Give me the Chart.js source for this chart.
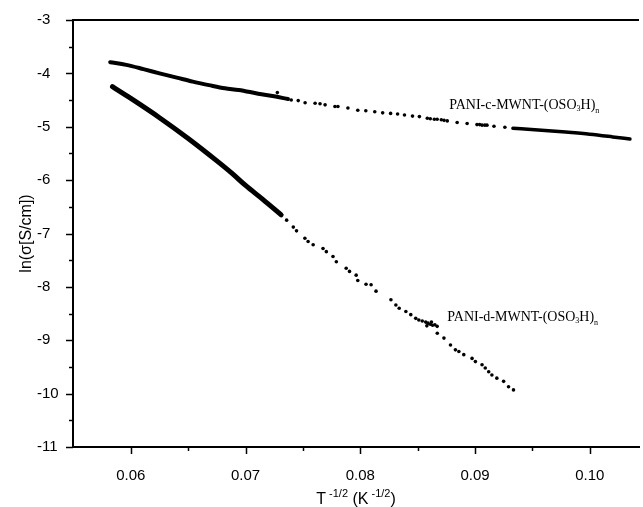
<!DOCTYPE html>
<html>
<head>
<meta charset="utf-8">
<script src="https://cdn.jsdelivr.net/npm/chart.js@4.4.1/dist/chart.umd.min.js"></script>
<style>
  html, body { margin: 0; padding: 0; background: #fff; }
</style>
</head>
<body>
<canvas id="chart" width="643" height="507"></canvas>
<script>
// ln(conductivity) vs T^-1/2 for the two PANI/MWNT composites

// axis ticks
const xMajorTicks = [0.06, 0.07, 0.08, 0.09, 0.10];
const xMinorTicks = [0.065, 0.075, 0.085, 0.095];
const yMajorTicks = [-3, -4, -5, -6, -7, -8, -9, -10, -11];
const yMinorTicks = [-3.5, -4.5, -5.5, -6.5, -7.5, -8.5, -9.5, -10.5];

// PANI-c-MWNT-(OSO3H)n : dense start, sparse middle, dense end
const cHeadX = [0.0582, 0.0596, 0.0611, 0.0625, 0.0640, 0.0654, 0.0668, 0.0682, 0.0694, 0.0711, 0.0725, 0.0737];
const cHeadY = [-3.79, -3.84, -3.92, -4.00, -4.08, -4.155, -4.22, -4.28, -4.31, -4.38, -4.43, -4.48];
const cDotsX = [0.07277, 0.07398, 0.07459, 0.07519, 0.07606, 0.07649, 0.07693, 0.07779, 0.07805, 0.07892,
                0.07978, 0.08048, 0.08126, 0.08195, 0.08264, 0.08325, 0.08385, 0.08455, 0.08515, 0.08584,
                0.08610, 0.08645, 0.08670, 0.08706, 0.08730, 0.08758, 0.08844, 0.08931, 0.09017, 0.09040,
                0.09061, 0.09085, 0.09104, 0.09165, 0.09260];
const cDotsY = [-4.36, -4.50, -4.51, -4.55, -4.56, -4.57, -4.59, -4.62, -4.62, -4.65,
                -4.69, -4.70, -4.72, -4.74, -4.75, -4.76, -4.78, -4.80, -4.81, -4.84,
                -4.85, -4.86, -4.86, -4.87, -4.88, -4.89, -4.92, -4.94, -4.96, -4.96,
                -4.97, -4.97, -4.97, -4.99, -5.01];
const cTailX = [0.0933, 0.0955, 0.0979, 0.1000, 0.1020, 0.1035];
const cTailY = [-5.03, -5.06, -5.10, -5.14, -5.19, -5.23];

// PANI-d-MWNT-(OSO3H)n : dense start, then scattered points
const dHeadX = [0.0584, 0.0600, 0.0625, 0.0650, 0.0675, 0.0688, 0.0700, 0.0715, 0.0731];
const dHeadY = [-4.25, -4.47, -4.83, -5.22, -5.64, -5.87, -6.10, -6.36, -6.65];
const dDotsX = [0.07358, 0.07416, 0.07444, 0.07517, 0.07545, 0.07589, 0.07675, 0.07704, 0.07762, 0.07791,
                0.07877, 0.07906, 0.07964, 0.07978, 0.08050, 0.08094, 0.08137, 0.08267, 0.08310, 0.08339,
                0.08397, 0.08440, 0.08483, 0.0851, 0.0854, 0.0857, 0.0858, 0.0859, 0.0861, 0.0862,
                0.0863, 0.0865, 0.0867, 0.08671, 0.08729, 0.08786, 0.08829, 0.08859, 0.08902, 0.08974,
                0.09003, 0.09061, 0.09089, 0.09119, 0.09147, 0.09190, 0.09249, 0.09292, 0.09335];
const dDotsY = [-6.75, -6.88, -6.95, -7.09, -7.15, -7.21, -7.28, -7.34, -7.43, -7.53,
                -7.65, -7.71, -7.78, -7.88, -7.95, -7.96, -8.08, -8.24, -8.34, -8.40,
                -8.46, -8.52, -8.59, -8.62, -8.64, -8.66, -8.73, -8.68, -8.70, -8.66,
                -8.72, -8.71, -8.74, -8.87, -8.96, -9.09, -9.18, -9.21, -9.27, -9.34,
                -9.40, -9.46, -9.52, -9.59, -9.65, -9.71, -9.77, -9.87, -9.93];

// curve labels: [x, y] of the text baseline start
const labelC = { x: 0.08775, y: -4.667, name: 'PANI-c-MWNT-(OSO', tail: 'H)' };
const labelD = { x: 0.08758, y: -8.646, name: 'PANI-d-MWNT-(OSO', tail: 'H)' };

const toPts = (xs, ys) => xs.map((x, i) => ({ x: x, y: ys[i] }));

const sansFont = '"Liberation Sans", Arial, sans-serif';
const serifFont = '"Liberation Serif", "Times New Roman", serif';

function lineSet(xs, ys, w){
  return {
    data: toPts(xs, ys), showLine: true, borderColor: '#000', borderWidth: w,
    pointRadius: 0, cubicInterpolationMode: 'monotone', borderCapStyle: 'round', borderJoinStyle: 'round'
  };
}
function dotSet(xs, ys, r){
  return {
    data: toPts(xs, ys), showLine: false, pointRadius: r, pointBorderWidth: 0,
    pointBackgroundColor: '#000', pointBorderColor: '#000'
  };
}

// draws a run of text pieces; sup/sub pieces use a smaller font and shift
function drawRuns(ctx, runs, x, y, big, small, family, align){
  let total = 0;
  for(const r of runs){
    ctx.font = (r.mode ? small : big) + 'px ' + family;
    r.w = ctx.measureText(r.t).width;
    total += r.w;
  }
  let cx = align === 'center' ? x - total / 2 : x;
  for(const r of runs){
    ctx.font = (r.mode ? small : big) + 'px ' + family;
    let dy = 0;
    if(r.mode === 'sup') dy = -big * 0.45;
    if(r.mode === 'sub') dy = r.drop || 3;
    ctx.fillText(r.t, cx, y + dy);
    cx += r.w;
  }
}

const framePlugin = {
  id: 'frame',
  afterDraw(chart){
    const { ctx, chartArea: a, scales: { x, y } } = chart;
    ctx.save();
    ctx.strokeStyle = '#000';
    ctx.fillStyle = '#000';

    // top frame line
    ctx.lineWidth = 2;
    ctx.beginPath();
    ctx.moveTo(a.left - 1, a.top);
    ctx.lineTo(a.right, a.top);
    ctx.stroke();

    // outward tick marks
    ctx.lineWidth = 1.5;
    const xTick = (vals, len) => vals.forEach(v => {
      const px = Math.round(x.getPixelForValue(v)) + 0.5;
      ctx.beginPath(); ctx.moveTo(px, a.bottom); ctx.lineTo(px, a.bottom + len); ctx.stroke();
    });
    const yTick = (vals, len) => vals.forEach(v => {
      const py = Math.round(y.getPixelForValue(v)) + 0.5;
      ctx.beginPath(); ctx.moveTo(a.left, py); ctx.lineTo(a.left - len, py); ctx.stroke();
    });
    xTick(xMajorTicks, 7); xTick(xMinorTicks, 4);
    yTick(yMajorTicks, 7); yTick(yMinorTicks, 4);

    // axis titles
    ctx.textBaseline = 'alphabetic';
    ctx.textAlign = 'left';
    drawRuns(ctx, [
      { t: 'T' }, { t: ' -1/2', mode: 'sup' }, { t: ' (K' }, { t: ' -1/2', mode: 'sup' }, { t: ')' }
    ], (a.left + a.right) / 2, 504, 16, 11, sansFont, 'center');

    ctx.save();
    ctx.translate(31, (a.top + a.bottom) / 2);
    ctx.rotate(-Math.PI / 2);
    ctx.font = '16px ' + sansFont;
    ctx.textAlign = 'center';
    ctx.fillText('ln(\u03C3[S/cm])', 0, 0);
    ctx.restore();

    // curve labels
    for(const lb of [labelC, labelD]){
      const px = x.getPixelForValue(lb.x);
      const py = y.getPixelForValue(lb.y);
      drawRuns(ctx, [
        { t: lb.name }, { t: '3', mode: 'sub', drop: 2 }, { t: lb.tail }, { t: 'n', mode: 'sub', drop: 4 }
      ], px, py, 14, 8, serifFont, 'left');
    }
    ctx.restore();
  }
};

new Chart(document.getElementById('chart'), {
  type: 'scatter',
  data: {
    datasets: [
      lineSet(cHeadX, cHeadY, 4),
      dotSet(cDotsX, cDotsY, 1.8),
      lineSet(cTailX, cTailY, 3.5),
      lineSet(dHeadX, dHeadY, 5),
      dotSet(dDotsX, dDotsY, 1.8)
    ]
  },
  options: {
    responsive: false,
    animation: false,
    devicePixelRatio: 1,
    layout: { padding: { top: 20, left: 37, right: 0, bottom: 0 } },
    plugins: { legend: { display: false }, tooltip: { enabled: false } },
    scales: {
      x: {
        type: 'linear', min: 0.05496, max: 0.10429,
        afterBuildTicks: s => { s.ticks = xMajorTicks.map(v => ({ value: v })); },
        afterFit: s => { s.height = 60; },
        grid: { display: false },
        border: { display: true, color: '#000', width: 2 },
        ticks: {
          autoSkip: false, maxRotation: 0, padding: 12, color: '#000',
          font: { family: sansFont, size: 15 },
          callback: v => v.toFixed(2)
        }
      },
      y: {
        type: 'linear', min: -11, max: -3,
        afterBuildTicks: s => { s.ticks = yMajorTicks.map(v => ({ value: v })); },
        afterFit: s => { s.width = 36; },
        grid: { display: false },
        border: { display: true, color: '#000', width: 2 },
        ticks: {
          autoSkip: false, crossAlign: 'far', padding: 10, color: '#000',
          font: { family: sansFont, size: 15 },
          callback: v => String(v)
        }
      }
    }
  },
  plugins: [framePlugin]
});
</script>
</body>
</html>
